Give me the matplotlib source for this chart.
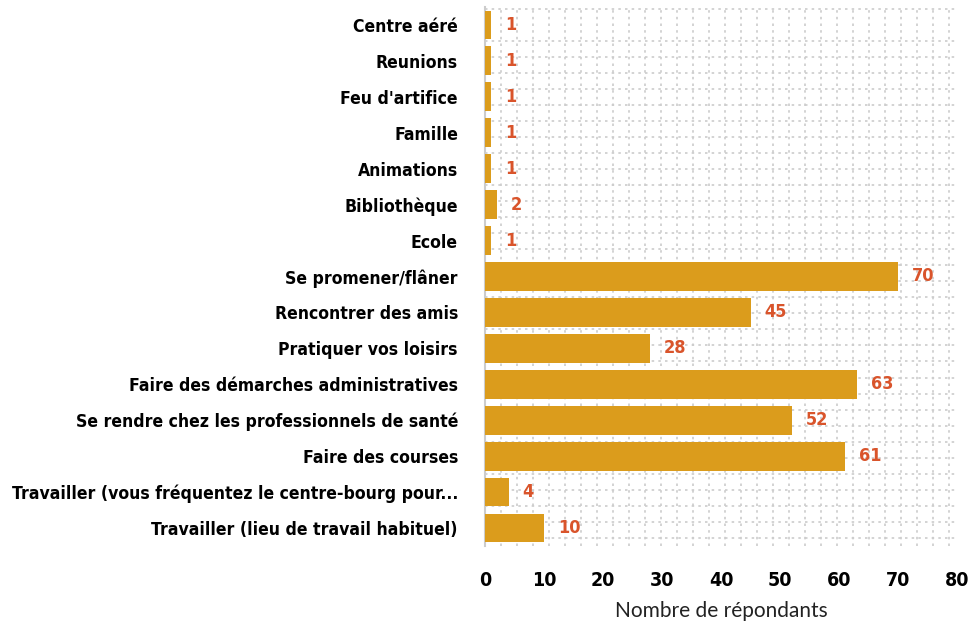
import matplotlib.pyplot as plt
from matplotlib.ticker import MultipleLocator
from matplotlib import font_manager
from matplotlib.font_manager import FontProperties

# données (de haut en bas)
categories = [
    "Centre aéré",
    "Reunions",
    "Feu d'artifice",
    "Famille",
    "Animations",
    "Bibliothèque",
    "Ecole",
    "Se promener/flâner",
    "Rencontrer des amis",
    "Pratiquer vos loisirs",
    "Faire des démarches administratives",
    "Se rendre chez les professionnels de santé",
    "Faire des courses",
    "Travailler (vous fréquentez le centre-bourg pour...",
    "Travailler (lieu de travail habituel)",
]
valeurs = [1, 1, 1, 1, 1, 2, 1, 70, 45, 28, 63, 52, 61, 4, 10]
ticks_x = [0, 10, 20, 30, 40, 50, 60, 70, 80]

# cherche une police condensée en gras parmi celles installées
fichiers = [f.fname for f in font_manager.fontManager.ttflist]
fichiers += font_manager.findSystemFonts()
cond_file = None
for motif in ["LiberationSansNarrow-Bold.", "DejaVuSansCondensed-Bold.", "RobotoCondensed-Bold", "OpenSans_Condensed-Bold", "OpenSansCondensed-Bold"]:
    for f in fichiers:
        if motif in f.split("/")[-1]:
            cond_file = f
            break
    if cond_file:
        break

def police(taille):
    if cond_file:
        return FontProperties(fname=cond_file, size=taille)
    return FontProperties(family="DejaVu Sans", weight="bold", stretch="condensed", size=taille)

fig = plt.figure(figsize=(9.7, 6.28), dpi=100)
ax = fig.add_axes([0.5, 0.1306, 0.4866, 0.8584])

pos = list(range(len(categories)))
ax.barh(pos, valeurs, height=0.8, color="#DB9C1C", zorder=3)

for y, v in zip(pos, valeurs):
    ax.annotate(str(v), (v, y), xytext=(10, 0), textcoords="offset points",
                va="center", ha="left", color="#D9542B", fontproperties=police(13))

ax.set_xlim(0, 80)
ax.set_ylim(len(categories) - 0.5, -0.5)
ax.set_yticks(pos)
ax.set_yticklabels(categories, fontproperties=police(12.6))
ax.set_xticks(ticks_x)
ax.set_xticklabels([str(t) for t in ticks_x], fontproperties=police(14))
ax.tick_params(axis="y", length=0, pad=19.5)
ax.tick_params(axis="x", length=0, pad=18)

# grille pointillée de fond
ax.xaxis.set_minor_locator(MultipleLocator(2.71))
ax.yaxis.set_minor_locator(MultipleLocator(0.446))
ax.grid(which="minor", color="#CCCCCC", linestyle=(0, (1.5, 2.5)), linewidth=1.2, zorder=0)
ax.grid(which="major", visible=False)
ax.tick_params(which="minor", length=0)

for s in ["top", "right", "bottom"]:
    ax.spines[s].set_visible(False)
ax.spines["left"].set_color("#CCCCCC")
ax.spines["left"].set_linewidth(1.5)

ax.set_xlabel("Nombre de répondants", family="Lato", fontsize=15, color="#222222", labelpad=8)

fig.savefig("out.png", dpi=100)
